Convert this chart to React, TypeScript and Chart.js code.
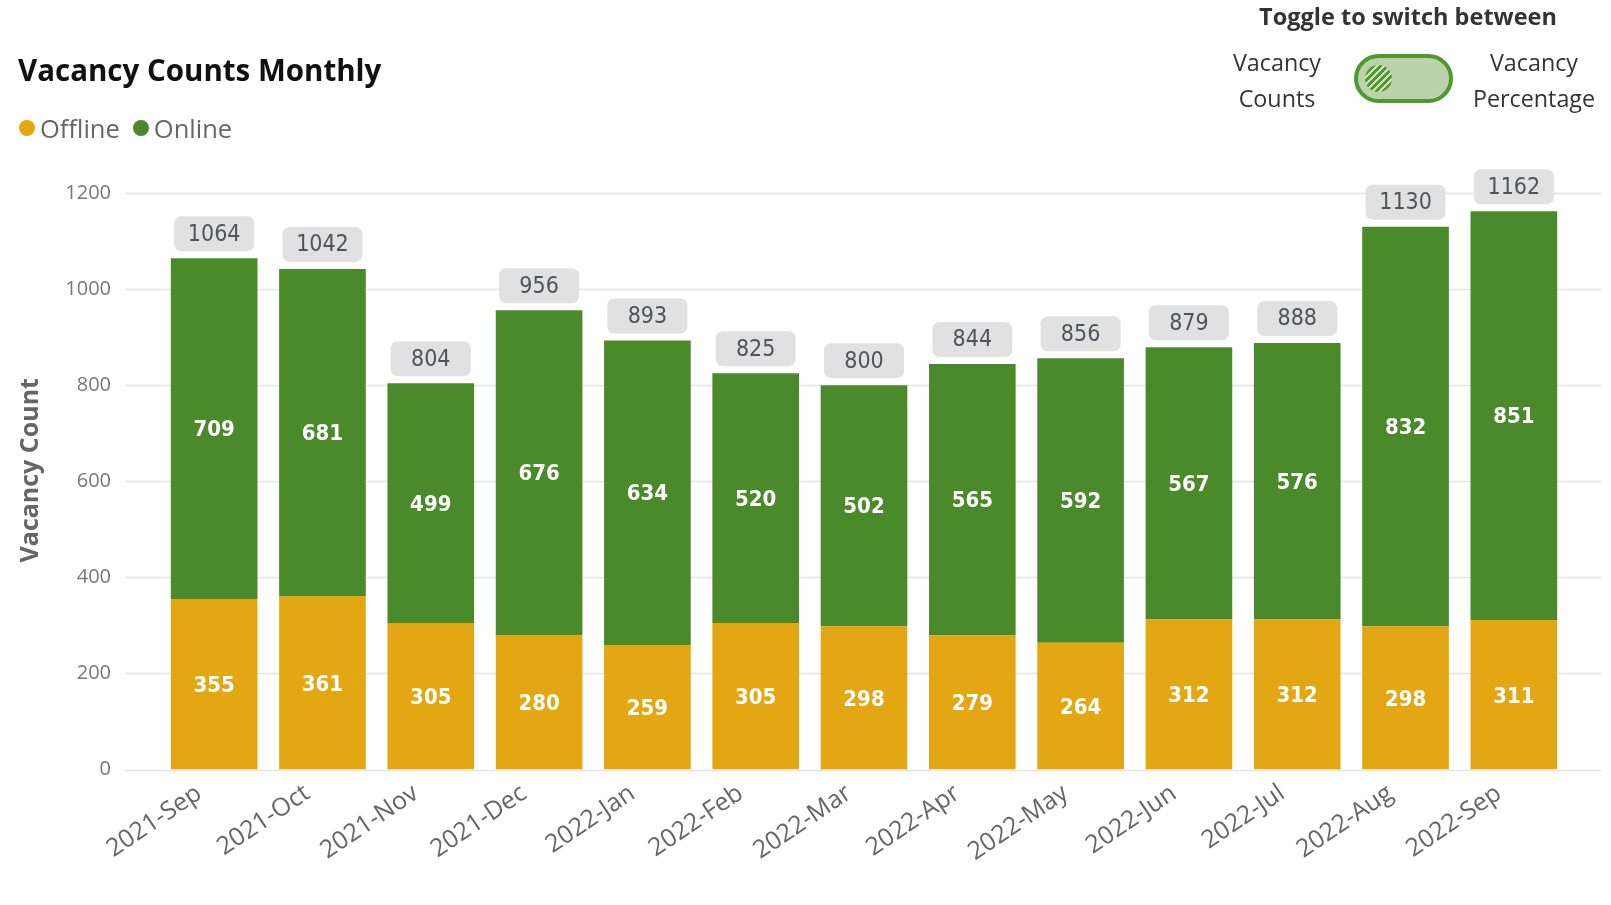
import React, { useEffect, useRef } from "react";
import { Chart, registerables } from "chart.js";

Chart.register(...registerables);

const months = [
  "2021-Sep", "2021-Oct", "2021-Nov", "2021-Dec", "2022-Jan", "2022-Feb", "2022-Mar",
  "2022-Apr", "2022-May", "2022-Jun", "2022-Jul", "2022-Aug", "2022-Sep",
];
const offline = [355, 361, 305, 280, 259, 305, 298, 279, 264, 312, 312, 298, 311];
const online = [709, 681, 499, 676, 634, 520, 502, 565, 592, 567, 576, 832, 851];
const yTickValues = [0, 200, 400, 600, 800, 1000, 1200];

const OFFLINE_COLOR = "#E2A713";
const ONLINE_COLOR = "#4A8A2B";
const LABEL_FONT = "'DejaVu Sans Condensed', Roboto, sans-serif";

const wideGrid = {
  id: "wideGrid",
  beforeDatasetsDraw(chart: any) {
    const { ctx, chartArea } = chart;
    const y = chart.scales.y;
    ctx.save();
    ctx.strokeStyle = "#e4e4e4";
    ctx.lineWidth = 1.5;
    y.ticks.forEach((t: any) => {
      const py = Math.round(y.getPixelForValue(t.value)) + 0.5;
      ctx.beginPath();
      ctx.moveTo(chartArea.left - 35, py);
      ctx.lineTo(chartArea.right + 33, py);
      ctx.stroke();
    });
    ctx.restore();
  },
};

const yTitle = {
  id: "yTitle",
  afterDraw(chart: any) {
    const { ctx, chartArea } = chart;
    ctx.save();
    ctx.translate(31, (chartArea.top + chartArea.bottom) / 2 - 11);
    ctx.rotate(-Math.PI / 2);
    ctx.textAlign = "center";
    ctx.textBaseline = "middle";
    ctx.fillStyle = "#666666";
    ctx.font = "bold 25px 'Open Sans'";
    ctx.fillText("Vacancy Count", 0, 0);
    ctx.restore();
  },
};

const barLabels = {
  id: "barLabels",
  afterDatasetsDraw(chart: any) {
    const { ctx } = chart;
    ctx.save();
    ctx.textAlign = "center";
    ctx.textBaseline = "middle";
    chart.data.datasets.forEach((ds: any, i: number) => {
      const meta = chart.getDatasetMeta(i);
      meta.data.forEach((bar: any, j: number) => {
        const { x, y, base } = bar.getProps(["x", "y", "base"], true);
        ctx.fillStyle = "#ffffff";
        ctx.font = `bold 22px ${LABEL_FONT}`;
        ctx.fillText(String(ds.data[j]), x, (y + base) / 2 + 2);
      });
    });
    const topMeta = chart.getDatasetMeta(chart.data.datasets.length - 1);
    topMeta.data.forEach((bar: any, j: number) => {
      const { x, y } = bar.getProps(["x", "y"], true);
      const total = offline[j] + online[j];
      const w = 80;
      const h = 35;
      const bx = x - w / 2;
      const by = y - 7 - h;
      ctx.fillStyle = "#E1E1E1";
      ctx.beginPath();
      (ctx as any).roundRect(bx, by, w, h, 7);
      ctx.fill();
      ctx.fillStyle = "#4f545a";
      ctx.font = `23px ${LABEL_FONT}`;
      ctx.fillText(String(total), x, by + h / 2 + 1);
    });
    ctx.restore();
  },
};

export default function App() {
  const canvasRef = useRef<HTMLCanvasElement | null>(null);

  useEffect(() => {
    document.body.style.margin = "0";
    document.body.style.overflow = "hidden";
    const canvas = canvasRef.current;
    if (!canvas) return;
    const chart = new Chart(canvas, {
      type: "bar",
      data: {
        labels: months,
        datasets: [
          {
            label: "Offline",
            data: offline,
            backgroundColor: OFFLINE_COLOR,
            barPercentage: 0.8,
            categoryPercentage: 1.0,
          },
          {
            label: "Online",
            data: online,
            backgroundColor: ONLINE_COLOR,
            barPercentage: 0.8,
            categoryPercentage: 1.0,
          },
        ],
      },
      options: {
        animation: false,
        responsive: true,
        maintainAspectRatio: false,
        layout: { padding: { top: 193, right: 43, bottom: 0, left: 0 } },
        plugins: {
          legend: { display: false },
          tooltip: { enabled: false },
        },
        scales: {
          x: {
            stacked: true,
            grid: { display: false, drawTicks: false },
            border: { display: false },
            ticks: {
              maxRotation: 34,
              minRotation: 34,
              padding: 9,
              labelOffset: -15,
              color: "#666666",
              font: { family: "'Open Sans'", size: 25 },
            },
            afterFit: (scale: any) => {
              scale.height = 135.5;
            },
          },
          y: {
            stacked: true,
            min: 0,
            max: 1200,
            grid: { display: false, drawTicks: false },
            border: { display: false },
            afterBuildTicks: (scale: any) => {
              scale.ticks = yTickValues.map((v) => ({ value: v }));
            },
            ticks: {
              padding: 49,
              color: "#777777",
              font: { family: "'Open Sans'", size: 20 },
              callback: (v: any) => String(v),
            },
            title: { display: false },
            afterFit: (scale: any) => {
              scale.width = 160;
            },
          },
        },
      },
      plugins: [wideGrid, barLabels, yTitle],
    });
    return () => chart.destroy();
  }, []);

  const txt: React.CSSProperties = {
    position: "absolute",
    fontFamily: "'Open Sans', sans-serif",
    lineHeight: 1,
    whiteSpace: "nowrap",
  };

  return (
    <div style={{ position: "relative", width: 1611, height: 905, background: "#fff", overflow: "hidden" }}>
      <div style={{ position: "absolute", left: 0, top: 0, width: 1611, height: 905 }}>
        <canvas ref={canvasRef} />
      </div>
      <div style={{ ...txt, left: 18, top: 55, fontSize: 29.5, fontWeight: 700, color: "#111" }}>
        Vacancy Counts Monthly
      </div>
      <div style={{ ...txt, left: 19, top: 115.5, fontSize: 25.5, color: "#666", display: "flex", alignItems: "center" }}>
        <span style={{ width: 16, height: 16, borderRadius: 8, background: OFFLINE_COLOR, display: "inline-block", marginRight: 5 }} />
        <span>Offline</span>
        <span style={{ width: 16, height: 16, borderRadius: 8, background: ONLINE_COLOR, display: "inline-block", marginLeft: 13, marginRight: 5 }} />
        <span>Online</span>
      </div>
      <div style={{ ...txt, left: 1408, top: 5, transform: "translateX(-50%)", fontSize: 23.5, fontWeight: 700, color: "#333" }}>
        Toggle to switch between
      </div>
      <div style={{ ...txt, left: 1277, top: 44, transform: "translateX(-50%)", fontSize: 23.3, color: "#333", textAlign: "center", lineHeight: "36px" }}>
        Vacancy<br />Counts
      </div>
      <div style={{ ...txt, left: 1534, top: 44, transform: "translateX(-50%)", fontSize: 23.3, color: "#333", textAlign: "center", lineHeight: "36px" }}>
        Vacancy<br />Percentage
      </div>
      <div
        style={{
          position: "absolute",
          left: 1354,
          top: 54,
          width: 99,
          height: 49,
          boxSizing: "border-box",
          border: "4px solid #4E9A2F",
          borderRadius: 25,
          background: "#BCD2AA",
        }}
      />
      <div
        style={{
          position: "absolute",
          left: 1365,
          top: 65,
          width: 27,
          height: 27,
          borderRadius: 14,
          background: "repeating-linear-gradient(135deg, #4E9A2F 0px, #4E9A2F 3px, #CFE2C0 3px, #CFE2C0 5px)",
        }}
      />
    </div>
  );
}
